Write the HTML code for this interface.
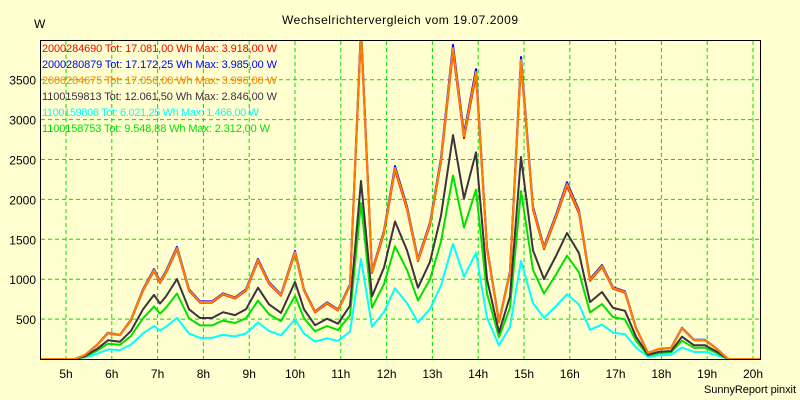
<!DOCTYPE html>
<html><head><meta charset="utf-8"><style>
body{margin:0;background:#ffffd0;}
svg{display:block;font-family:"Liberation Sans",sans-serif;}
</style></head><body>
<svg id="s" width="800" height="400" xmlns="http://www.w3.org/2000/svg">
<rect width="800" height="400" fill="#ffffd0"/>
<defs><clipPath id="c"><rect x="40" y="40" width="721" height="320"/></clipPath></defs>
<g id="grid" stroke="#00e000" stroke-dasharray="4,3" stroke-width="1"></g>
<g id="lines" clip-path="url(#c)" fill="none" stroke-width="2" stroke-linejoin="round"></g>
<rect x="40.5" y="40.5" width="720" height="319" fill="none" stroke="#000"/>
<g id="lbl" font-size="12" fill="#000"></g>
<text x="400" y="24" font-size="12" text-anchor="middle" textLength="236">Wechselrichtervergleich vom 19.07.2009</text>
<text x="34" y="28" font-size="12">W</text>
<text x="796" y="393" font-size="11" text-anchor="end" textLength="92">SunnyReport pinxit</text>
<g font-size="11">
<text x="42" y="52" fill="#ff0000" textLength="235">2000284690 Tot: 17.081,00 Wh Max: 3.918,00 W</text>
<text x="42" y="68" fill="#0000ff" textLength="235">2000280879 Tot: 17.172,25 Wh Max: 3.985,00 W</text>
<text x="42" y="84" fill="#ff8000" textLength="235">2000284675 Tot: 17.056,00 Wh Max: 3.996,00 W</text>
<text x="42" y="100" fill="#403040" textLength="235">1100159813 Tot: 12.061,50 Wh Max: 2.846,00 W</text>
<text x="42" y="116" fill="#00ffff" textLength="217">1100159808 Tot: 6.021,25 Wh Max: 1.466,00 W</text>
<text x="42" y="132" fill="#00e000" textLength="228">1100158753 Tot: 9.548,88 Wh Max: 2.312,00 W</text>
</g>
</svg>
<script>
var ns="http://www.w3.org/2000/svg";
function el(p,t,a,tx){var e=document.createElementNS(ns,t);for(var k in a)e.setAttribute(k,a[k]);if(tx)e.textContent=tx;document.getElementById(p).appendChild(e);}
for(var i=0;i<16;i++){var x=66+i*45.8;el("grid","line",{x1:x,x2:x,y1:41,y2:359});el("lbl","text",{x:x,y:378,"text-anchor":"middle"},(i+5)+"h");}
for(var j=1;j<=7;j++){var y=359-j*39.9;el("grid","line",{x1:41,x2:760,y1:y,y2:y});el("lbl","text",{x:36,y:y+5,"text-anchor":"end"},String(j*500));}
var P=[[40,359],[75,359],[85,355],[97,345],[108,333],[120,335],[131,320],[143,290],[154,270],[160,282],[166,272],[177,248],[189,290],[200,302],[212,302],[223,294],[235,298],[246,290],[258,260],[269,283],[281,295],[295,252],[304,290],[315,312],[327,303],[338,310],[350,285],[361,30],[372,272],[384,232],[395,168],[407,208],[418,260],[430,224],[441,160],[453,48],[464,136],[476,72],[487,248],[499,322],[510,272],[521,60],[533,208],[544,248],[556,216],[567,184],[579,212],[590,280],[602,266],[613,288],[625,292],[636,328],[648,353],[659,349],[671,348],[682,328],[694,340],[705,340],[717,349],[728,359],[761,359]];
function line(k,c,ov){var s=P.map(function(p){var y=359-(359-p[1])*k;if(ov&&ov[p[0]]!==undefined)y=ov[p[0]];return p[0]+","+y.toFixed(1)}).join(" ");el("lines","polyline",{points:s,stroke:c});}
line(0.37,"#00ffff",{361:259,521:261});line(0.59,"#00e000",{361:203,521:191});line(0.72,"#403040",{361:181,521:157});
line(1.01,"#0000ff");line(0.99,"#ff0000");line(1.0,"#ff8000");
</script>
</body></html>
